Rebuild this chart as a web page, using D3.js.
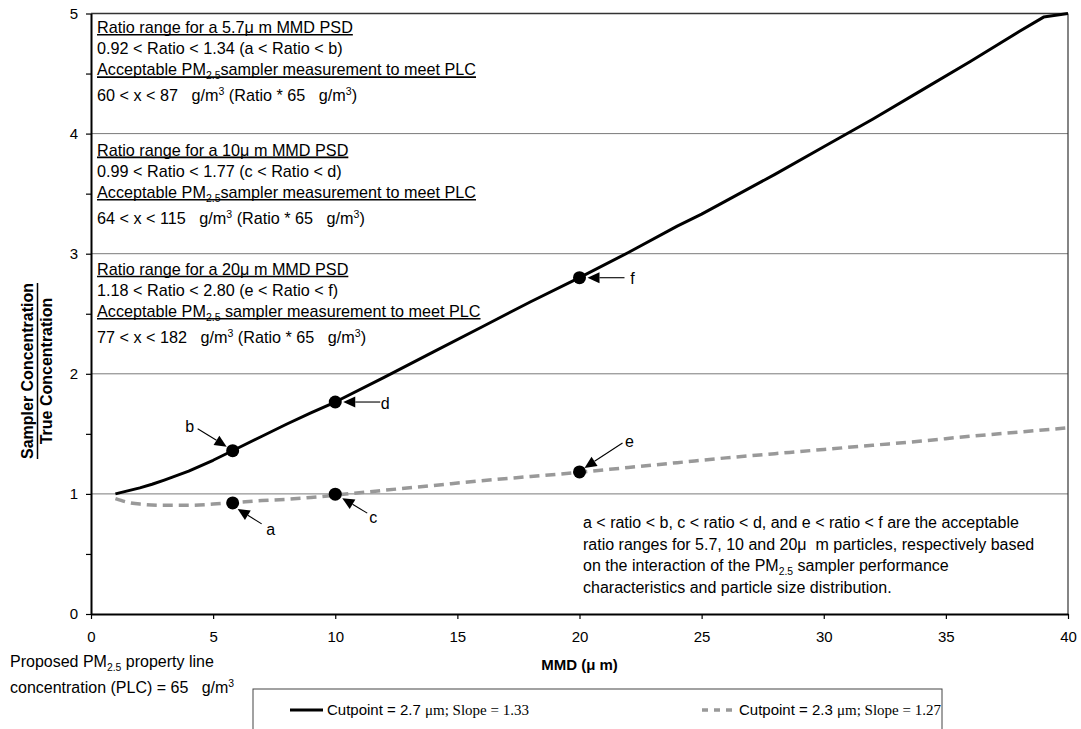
<!DOCTYPE html>
<html><head><meta charset="utf-8">
<script src="https://cdn.jsdelivr.net/npm/d3@7"></script>
<style>
body{margin:0;background:#fff}
svg text{font-family:"Liberation Sans",Arial,Helvetica,sans-serif;fill:#000;white-space:pre}
</style></head><body>
<svg id="chart" width="1081" height="729"></svg>
<script>
// ---------- data ----------
const solidX = [1, 1.5, 2, 2.5, 3, 4, 5, 6, 7, 8, 9, 10, 12, 14, 16, 18, 20, 22, 24, 25, 26, 28, 30, 32, 34, 36, 38, 39, 40];
const solidY = [1.00, 1.025, 1.05, 1.08, 1.115, 1.19, 1.28, 1.38, 1.48, 1.58, 1.675, 1.765, 1.97, 2.18, 2.39, 2.60, 2.80, 3.01, 3.23, 3.33, 3.44, 3.66, 3.89, 4.12, 4.36, 4.60, 4.85, 4.97, 5.00];
const dashX = [1, 1.5, 2, 3, 4, 5, 6, 7, 8, 9, 10, 12, 14, 16, 18, 20, 22, 24, 26, 28, 30, 32, 34, 36, 38, 40];
const dashY = [0.96, 0.93, 0.915, 0.905, 0.905, 0.915, 0.93, 0.945, 0.955, 0.97, 0.99, 1.03, 1.07, 1.11, 1.145, 1.18, 1.22, 1.26, 1.30, 1.335, 1.37, 1.405, 1.44, 1.48, 1.515, 1.55];
const pointLabels = ["a", "b", "c", "d", "e", "f"];
const pointX = [5.8, 5.8, 10, 10, 20, 20];
const pointY = [0.925, 1.36, 0.998, 1.765, 1.183, 2.80];
const xTicks = [0, 5, 10, 15, 20, 25, 30, 35, 40];
const yTicks = [0, 1, 2, 3, 4, 5];
const yMinorTicks = [0.5, 1.5, 2.5, 3.5, 4.5];
const gridValues = [1, 2, 3, 4];
const legendSans = ["Cutpoint = 2.7 ", "Cutpoint = 2.3 "];
const legendSerif = ["\u03bcm; Slope = 1.33", "\u03bcm; Slope = 1.27"];
const xTitle = "MMD (\u03bc m)";
const yTitleTop = "Sampler Concentration";
const yTitleBottom = "True Concentration";
const block1 = ["Ratio range for a 5.7\u03bc m MMD PSD", "0.92 < Ratio < 1.34 (a < Ratio < b)", "Acceptable PM_{2.5}sampler measurement to meet PLC", "60 < x < 87 \u00a0 g/m^{3} (Ratio * 65 \u00a0 g/m^{3})"];
const block2 = ["Ratio range for a 10\u03bc m MMD PSD", "0.99 < Ratio < 1.77 (c < Ratio < d)", "Acceptable PM_{2.5}sampler measurement to meet PLC", "64 < x < 115 \u00a0 g/m^{3} (Ratio * 65 \u00a0 g/m^{3})"];
const block3 = ["Ratio range for a 20\u03bc m MMD PSD", "1.18 < Ratio < 2.80 (e < Ratio < f)", "Acceptable PM_{2.5} sampler measurement to meet PLC", "77 < x < 182 \u00a0 g/m^{3} (Ratio * 65 \u00a0 g/m^{3})"];
const noteLines = ["a < ratio < b, c < ratio < d, and e < ratio < f are the acceptable", "ratio ranges for 5.7, 10 and 20\u03bc \u00a0m particles, respectively based", "on the interaction of the PM_{2.5} sampler performance", "characteristics and particle size distribution."];
const plcLines = ["Proposed PM_{2.5} property line", "concentration (PLC) = 65 \u00a0 g/m^{3}"];

// ---------- layout ----------
const SERIF = '"Liberation Serif","Times New Roman",serif';
const svg = d3.select("#chart");
const x = d3.scaleLinear().domain([0, 40]).range([91, 1068]);
const y = d3.scaleLinear().domain([0, 5]).range([614, 13.5]);

// gridlines
svg.append("g").selectAll("line").data(gridValues).join("line")
  .attr("x1", x(0)).attr("x2", x(40)).attr("y1", d => y(d)).attr("y2", d => y(d))
  .attr("stroke", "#7a7a7a").attr("stroke-width", 1);
// frame top/right
svg.append("line").attr("x1", x(0)).attr("x2", x(40)).attr("y1", y(5)).attr("y2", y(5)).attr("stroke", "#333").attr("stroke-width", 1.5);
svg.append("line").attr("x1", x(40)).attr("x2", x(40)).attr("y1", y(5)).attr("y2", y(0)).attr("stroke", "#333").attr("stroke-width", 1.2);

// axes
const gy = svg.append("g").attr("transform", `translate(${x(0)},0)`)
  .call(d3.axisLeft(y).tickValues(yTicks).tickSize(5).tickSizeOuter(0).tickPadding(8).tickFormat(d3.format("d")));
const gyMinor = svg.append("g").attr("transform", `translate(${x(0)},0)`)
  .call(d3.axisLeft(y).tickValues(yMinorTicks).tickSize(5).tickSizeOuter(0).tickFormat(""));
gyMinor.select(".domain").remove();
const gx = svg.append("g").attr("transform", `translate(0,${y(0)})`)
  .call(d3.axisBottom(x).tickValues(xTicks).tickSize(5).tickSizeOuter(0).tickPadding(12).tickFormat(d3.format("d")));
[gy, gx].forEach(g => {
  g.select(".domain").attr("stroke", "#000").attr("stroke-width", 2);
  g.selectAll("text").attr("font-size", 15).attr("font-family", null).attr("fill", "#000");
});
svg.selectAll(".tick line").attr("stroke", "#000").attr("stroke-width", 1.2);

// rich text helper: _{sub} ^{sup}
function rich(parent, xp, yp, str, size, bold) {
  const t = parent.append("text").attr("x", xp).attr("y", yp).attr("font-size", size);
  if (bold) t.attr("font-weight", "bold");
  const parts = str.split(/(_\{[^}]*\}|\^\{[^}]*\})/).filter(s => s.length);
  let shift = 0;
  parts.forEach(p => {
    let txt = p, target = 0, sm = false;
    if (p.startsWith("_{")) { txt = p.slice(2, -1); target = size * 0.25; sm = true; }
    else if (p.startsWith("^{")) { txt = p.slice(2, -1); target = -size * 0.38; sm = true; }
    const ts = t.append("tspan").text(txt);
    if (target !== shift) { ts.attr("dy", target - shift); shift = target; }
    if (sm) ts.attr("font-size", size * 0.65);
  });
  return t;
}

// curves
svg.append("clipPath").attr("id", "plotclip").append("rect")
  .attr("x", x(0)).attr("y", y(5) - 2).attr("width", x(40) - x(0)).attr("height", y(0) - y(5) + 2);
const smooth = d3.line().x(d => x(d[0])).y(d => y(d[1])).curve(d3.curveMonotoneX);
const straight = d3.line().x(d => x(d[0])).y(d => y(d[1]));
svg.append("path").datum(dashX.map((v, i) => [v, dashY[i]])).attr("d", smooth)
  .attr("fill", "none").attr("stroke", "#999").attr("stroke-width", 3.5).attr("stroke-dasharray", "10,6")
  .attr("clip-path", "url(#plotclip)");
svg.append("path").datum(solidX.map((v, i) => [v, solidY[i]])).attr("d", straight)
  .attr("fill", "none").attr("stroke", "#000").attr("stroke-width", 3).attr("stroke-linejoin", "round")
  .attr("clip-path", "url(#plotclip)");

// points
svg.append("g").selectAll("circle").data(pointX).join("circle")
  .attr("cx", d => x(d)).attr("cy", (d, i) => y(pointY[i])).attr("r", 6.5).attr("fill", "#000");

// annotation arrows (pixel offsets from point: tip, tail, label)
const arrowLayout = {
  a: {tip: [5, 6], tail: [29, 21], lab: [38, 26]},
  b: {tip: [-6, -4], tail: [-35, -22], lab: [-43, -24]},
  c: {tip: [7, 4], tail: [32, 19], lab: [38, 23]},
  d: {tip: [8, 0], tail: [45, 0], lab: [50, 1]},
  e: {tip: [5, -4], tail: [43, -29], lab: [50, -31]},
  f: {tip: [8, 0], tail: [45, 0], lab: [53, 1]}
};
const ag = svg.append("g");
pointLabels.forEach((lbl, i) => {
  const cx = x(pointX[i]), cy = y(pointY[i]);
  const L = arrowLayout[lbl];
  const tip = [cx + L.tip[0], cy + L.tip[1]], tail = [cx + L.tail[0], cy + L.tail[1]];
  const dx = tip[0] - tail[0], dy = tip[1] - tail[1], len = Math.hypot(dx, dy);
  const ux = dx / len, uy = dy / len, hl = 12, hw = 5.5;
  const base = [tip[0] - ux * hl, tip[1] - uy * hl];
  ag.append("line").attr("x1", tail[0]).attr("y1", tail[1]).attr("x2", base[0]).attr("y2", base[1])
    .attr("stroke", "#000").attr("stroke-width", 1.1);
  ag.append("path").attr("d", `M${tip[0]},${tip[1]}L${base[0] - uy * hw},${base[1] + ux * hw}L${base[0] + uy * hw},${base[1] - ux * hw}Z`)
    .attr("fill", "#000");
  ag.append("text").attr("x", cx + L.lab[0]).attr("y", cy + L.lab[1]).attr("dy", "0.35em")
    .attr("text-anchor", "middle").attr("font-size", 16).text(lbl);
});

// text blocks
const lineOffsets = [0, 21, 42.3, 68.3];
const underlined = [true, false, true, false];
[[block1, y(5) + 19.5], [block2, y(4) + 22], [block3, y(3) + 21]].forEach(([blk, top]) => {
  const g = svg.append("g");
  blk.forEach((s, j) => {
    const t = rich(g, 97, top + lineOffsets[j], s, 16.2);
    if (underlined[j]) {
      const w = t.node().getComputedTextLength();
      g.append("line").attr("x1", 97).attr("x2", 97 + w)
        .attr("y1", top + lineOffsets[j] + 1.8).attr("y2", top + lineOffsets[j] + 1.8)
        .attr("stroke", "#000").attr("stroke-width", 1.6);
    }
  });
});

// note in lower right
noteLines.forEach((s, j) => rich(svg, 583, 528 + j * 21.6, s, 16));

// PLC note lower left
plcLines.forEach((s, j) => rich(svg, 10, 667 + j * 26, s, 16));

// axis titles
svg.append("text").attr("x", (x(0) + x(40)) / 2).attr("y", 670).attr("text-anchor", "middle")
  .attr("font-size", 15).attr("font-weight", "bold").text(xTitle);
const yt = svg.append("g").attr("transform", "translate(33,371) rotate(-90)");
yt.append("text").attr("text-anchor", "middle").attr("font-size", 16).attr("font-weight", "bold").text(yTitleTop);
yt.append("text").attr("y", 19).attr("text-anchor", "middle").attr("font-size", 16).attr("font-weight", "bold").text(yTitleBottom);
const tw = yt.select("text").node().getComputedTextLength();
yt.append("line").attr("x1", -tw / 2).attr("x2", tw / 2).attr("y1", 4.5).attr("y2", 4.5)
  .attr("stroke", "#000").attr("stroke-width", 1.5);

// legend
const lg = svg.append("g");
lg.append("rect").attr("x", 253).attr("y", 689).attr("width", 689).attr("height", 60)
  .attr("fill", "#fff").attr("stroke", "#444").attr("stroke-width", 1);
const legX = [290, 702];
legendSans.forEach((s, i) => {
  lg.append("line").attr("x1", legX[i]).attr("x2", legX[i] + 33).attr("y1", 710).attr("y2", 710)
    .attr("stroke", i === 0 ? "#000" : "#999").attr("stroke-width", i === 0 ? 3 : 3.5)
    .attr("stroke-dasharray", i === 0 ? null : "6,6");
  const t = lg.append("text").attr("x", legX[i] + 37).attr("y", 715).attr("font-size", 15);
  t.append("tspan").text(s);
  t.append("tspan").attr("font-family", SERIF).text(legendSerif[i]);
});
</script>
</body></html>
